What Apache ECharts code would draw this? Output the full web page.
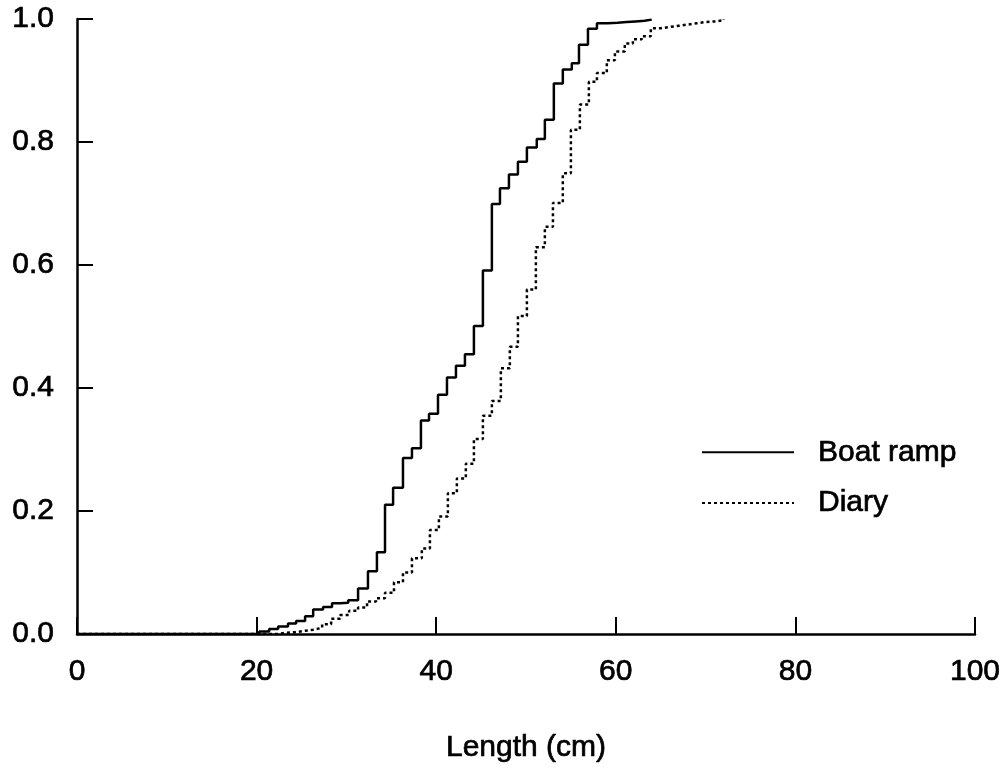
<!DOCTYPE html>
<html>
<head>
<meta charset="utf-8">
<script src="https://cdn.jsdelivr.net/npm/echarts@6/dist/echarts.min.js"></script>
<style>
  html, body { margin: 0; padding: 0; background: #fff; }
  #chart { width: 1008px; height: 771px; }
</style>
</head>
<body>
<div id="chart"></div>
<script>
// step positions (cm) and cumulative proportion after each step
var boatX = [0, 20.3, 21.4, 22.4, 23.5, 24.4, 25.4, 26.3, 27.4, 28.4, 29.3, 30.2, 31.3, 32.4, 33.4, 34.3, 35.2, 36.3, 37.3, 38.3,
  39.2, 40.2, 41.2, 42.2, 43.2, 44.2, 45.2, 46.2, 47.1, 48.1, 49.1, 50.1, 51.2, 52.1, 53.1, 54.1, 55.1, 55.9, 56.9, 57.9,
  59.1, 60.2, 61.2, 62.2, 63.2, 64.0];
var boatY = [0, 0.004, 0.008, 0.012, 0.017, 0.021, 0.029, 0.040, 0.044, 0.050, 0.051, 0.055, 0.074, 0.102, 0.133, 0.210, 0.238, 0.286, 0.302, 0.347,
  0.358, 0.389, 0.417, 0.436, 0.455, 0.501, 0.591, 0.699, 0.725, 0.747, 0.768, 0.791, 0.805, 0.836, 0.895, 0.918, 0.928, 0.958, 0.984, 0.993,
  0.994, 0.995, 0.996, 0.997, 0.999, 1.0];

var diaryX = [0, 22.3, 23.3, 24.3, 25.3, 26.3, 27.3, 28.3, 29.3, 30.3, 31.3, 32.3, 33.3, 34.3, 35.3, 36.3, 37.3, 38.4, 39.3, 40.3,
  41.3, 42.3, 43.3, 44.2, 45.2, 46.2, 47.2, 48.2, 49.1, 50.1, 51.1, 52.1, 53.0, 54.1, 55.0, 56.0, 57.0, 57.9, 59.0, 59.9,
  61.0, 61.9, 62.9, 63.9, 65.0, 66.0, 67.0, 68.0, 69.0, 70.0, 71.0, 72.0];
var diaryY = [0, 0.002, 0.003, 0.005, 0.007, 0.010, 0.016, 0.025, 0.031, 0.038, 0.043, 0.053, 0.058, 0.067, 0.084, 0.100, 0.123, 0.139, 0.169, 0.191,
  0.229, 0.253, 0.277, 0.317, 0.355, 0.379, 0.432, 0.467, 0.517, 0.560, 0.629, 0.662, 0.701, 0.749, 0.820, 0.861, 0.898, 0.912, 0.933, 0.947,
  0.960, 0.967, 0.972, 0.985, 0.987, 0.989, 0.991, 0.993, 0.995, 0.996, 0.998, 1.0];

var seriesNames = ["Boat ramp", "Diary"];
var xTicks = [0, 20, 40, 60, 80, 100];
var yTicks = [0, 0.2, 0.4, 0.6, 0.8, 1.0];

function zip(xs, ys) {
  return xs.map(function (x, i) { return [x, ys[i]]; });
}

var font = "Liberation Sans, Arial, Helvetica, sans-serif";
// slightly heavier than regular, like the scanned original
var txt = { fontFamily: font, fontSize: 30, color: "#000", textBorderColor: "#000", textBorderWidth: 0.7 };

var chart = echarts.init(document.getElementById("chart"));

chart.setOption({
  animation: false,
  backgroundColor: "#fff",
  grid: { left: 77, right: 33, top: 19, bottom: 137 },
  legend: {
    orient: "vertical",
    left: 701,
    top: 437,
    padding: 0,
    itemWidth: 92,
    itemHeight: 14,
    itemGap: 20,
    itemStyle: { opacity: 0 },
    textStyle: Object.assign({}, txt, { lineHeight: 30, padding: [0, 0, 0, 19] }),
    data: seriesNames
  },
  xAxis: {
    type: "value",
    min: xTicks[0],
    max: xTicks[xTicks.length - 1],
    interval: 20,
    name: "Length (cm)",
    nameLocation: "middle",
    nameGap: 99,
    nameTextStyle: txt,
    axisLine: { lineStyle: { color: "#000", width: 2.5 } },
    axisTick: { inside: true, length: 17, lineStyle: { color: "#000", width: 2 } },
    axisLabel: Object.assign({}, txt, { margin: 23 }),
    splitLine: { show: false }
  },
  yAxis: {
    type: "value",
    min: yTicks[0],
    max: yTicks[yTicks.length - 1],
    interval: 0.2,
    axisLine: { show: true, lineStyle: { color: "#000", width: 2.5 } },
    axisTick: { show: true, inside: true, length: 16, lineStyle: { color: "#000", width: 2 } },
    axisLabel: Object.assign({}, txt, {
      margin: 23,
      formatter: function (v) { return v.toFixed(1); }
    }),
    splitLine: { show: false }
  },
  series: [
    {
      name: seriesNames[0],
      type: "line",
      step: "end",
      symbol: "none",
      data: zip(boatX, boatY),
      lineStyle: { color: "#000", width: 2.5 },
      itemStyle: { color: "#000" }
    },
    {
      name: seriesNames[1],
      type: "line",
      step: "end",
      symbol: "none",
      data: zip(diaryX, diaryY),
      lineStyle: { color: "#000", width: 2.5, type: [3, 3] },
      itemStyle: { color: "#000" }
    }
  ]
});
</script>
</body>
</html>
